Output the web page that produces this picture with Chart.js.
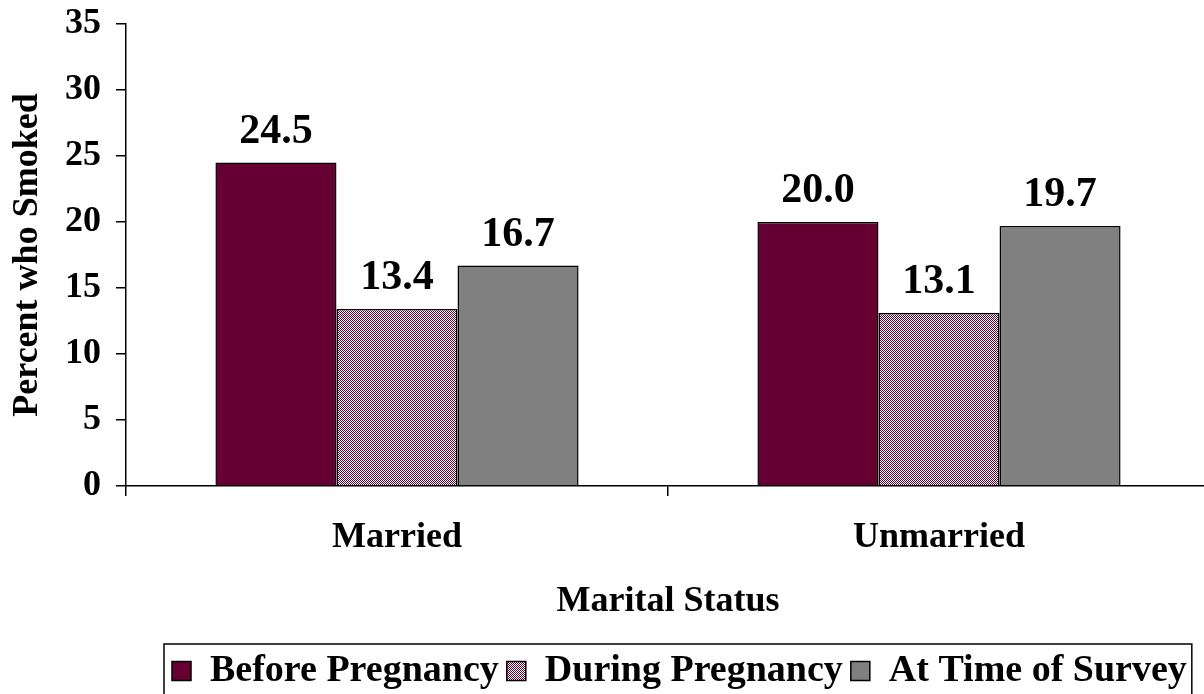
<!DOCTYPE html>
<html>
<head>
<meta charset="utf-8">
<script src="https://cdn.jsdelivr.net/npm/chart.js@4.4.1/dist/chart.umd.min.js"></script>
<style>
  html, body { margin: 0; padding: 0; background: #ffffff; overflow: hidden; }
  #wrap { width: 1204px; height: 694px; overflow: hidden; position: relative; }
  canvas { display: block; }
</style>
</head>
<body>
<div id="wrap"><canvas id="c" width="1220" height="700"></canvas></div>
<script>
const categories = ["Married", "Unmarried"];
const seriesNames = ["Before Pregnancy", "During Pregnancy", "At Time of Survey"];
const beforePregnancy = [24.5, 20.0];
const duringPregnancy = [13.4, 13.1];
const atTimeOfSurvey = [16.7, 19.7];
const yTicks = [0, 5, 10, 15, 20, 25, 30, 35];
const yTitle = "Percent who Smoked";
const xTitle = "Marital Status";

const FONT = "'Liberation Serif', 'Times New Roman', serif";

function makePattern() {
  const p = document.createElement('canvas');
  p.width = 4; p.height = 4;
  const g = p.getContext('2d');
  g.fillStyle = '#ffffff';
  g.fillRect(0, 0, 4, 4);
  g.fillStyle = '#660033';
  for (let y = 0; y < 4; y++) {
    for (let x = 0; x < 4; x++) {
      if ((x + y) % 2 === 0) g.fillRect(x, y, 1, 1);
    }
  }
  return document.getElementById('c').getContext('2d').createPattern(p, 'repeat');
}
const pink = makePattern();

const dataLabels = {
  id: 'dataLabels',
  afterDatasetsDraw(chart) {
    const ctx = chart.ctx;
    ctx.save();
    ctx.font = "bold 42px " + FONT;
    ctx.fillStyle = '#000';
    ctx.textAlign = 'center';
    ctx.textBaseline = 'alphabetic';
    chart.data.datasets.forEach((ds, i) => {
      const meta = chart.getDatasetMeta(i);
      meta.data.forEach((bar, j) => {
        ctx.fillText(ds.data[j].toFixed(1), bar.x, bar.y - 20);
      });
    });
    ctx.restore();
  }
};

const LEGEND_ROW_START = 172;
const legendBox = {
  id: 'legendBox',
  afterLayout(chart) {
    const lg = chart.legend;
    const pad = lg.options.labels.padding;
    const x0 = (lg.left + pad + lg.right - lg.lineWidths[0]) / 2;
    const shift = LEGEND_ROW_START - x0;
    lg.left += shift;
    lg.right += shift;
  },
  afterDraw(chart) {
    const lg = chart.legend;
    const pad = lg.options.labels.padding;
    const lw = lg.lineWidths[0];
    const x0 = (lg.left + pad + lg.right - lw) / 2;
    const ctx = chart.ctx;
    ctx.save();
    ctx.strokeStyle = '#000';
    ctx.lineWidth = 1.5;
    ctx.strokeRect(x0 - 8, lg.top, lw - pad + 13, lg.height + 20);
    ctx.restore();
  }
};

new Chart(document.getElementById('c'), {
  type: 'bar',
  data: {
    labels: categories,
    datasets: [
      { label: seriesNames[0], data: beforePregnancy, backgroundColor: '#660033', borderColor: '#000', borderWidth: 1.5 },
      { label: seriesNames[1], data: duringPregnancy, backgroundColor: pink, borderColor: '#000', borderWidth: 1.5 },
      { label: seriesNames[2], data: atTimeOfSurvey, backgroundColor: '#808080', borderColor: '#000', borderWidth: 1.5 }
    ]
  },
  options: {
    responsive: false,
    animation: false,
    devicePixelRatio: 1,
    categoryPercentage: 0.67,
    barPercentage: 1.0,
    layout: { padding: { top: 24, right: 10, left: 0, bottom: 0 } },
    plugins: {
      tooltip: { enabled: false },
      legend: {
        position: 'bottom',
        labels: {
          font: { family: FONT, size: 38, weight: 'bold' },
          color: '#000',
          boxWidth: 19,
          boxHeight: 19,
          padding: 8
        }
      }
    },
    scales: {
      x: {
        afterFit(scale) { scale.height = 158; },
        grid: { drawOnChartArea: false, drawTicks: true, tickLength: 10, color: '#000', lineWidth: 1.5, offset: true },
        border: { display: true, color: '#000', width: 1.5 },
        ticks: { color: '#000', font: { family: FONT, size: 36, weight: 'bold' }, padding: 20 },
        title: { display: true, text: xTitle, color: '#000', font: { family: FONT, size: 36, weight: 'bold' }, padding: { top: 0, bottom: 21 } }
      },
      y: {
        min: 0,
        max: 35,
        afterFit(scale) { scale.width = 126; scale.paddingTop = 0; scale.paddingBottom = 0; },
        afterBuildTicks(scale) { scale.ticks = yTicks.map(v => ({ value: v })); },
        grid: { drawOnChartArea: false, drawTicks: true, tickLength: 10, color: '#000', lineWidth: 1.5 },
        border: { display: true, color: '#000', width: 1.5 },
        ticks: { color: '#000', font: { family: FONT, size: 36, weight: 'bold' }, padding: 15 },
        title: { display: true, text: yTitle, color: '#000', font: { family: FONT, size: 36, weight: 'bold' }, padding: { top: 6, bottom: 0 } }
      }
    }
  },
  plugins: [dataLabels, legendBox]
});
</script>
</body>
</html>
